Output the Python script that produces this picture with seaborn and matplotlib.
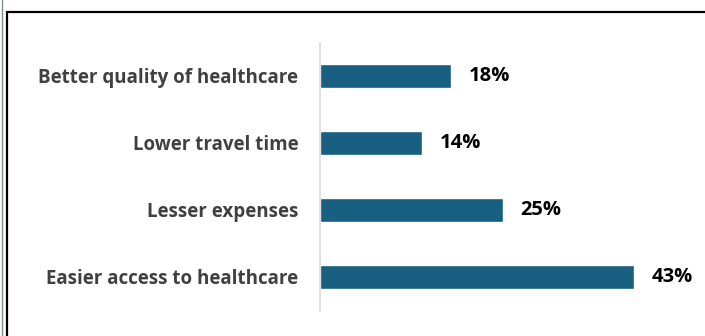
import pandas as pd
import matplotlib
matplotlib.use("Agg")
import matplotlib.pyplot as plt
import seaborn as sns
from matplotlib.patches import Rectangle
from matplotlib.lines import Line2D


categories = ["Better quality of healthcare", "Lower travel time",
              "Lesser expenses", "Easier access to healthcare"]
values = [18, 14, 25, 43]
BAR_COLOR = "#195f82"

sns.set_style("white")
plt.rcParams["font.family"] = ["Open Sans", "DejaVu Sans"]

df = pd.DataFrame({"reason": categories, "share": values})

fig = plt.figure(figsize=(7.05, 3.36), dpi=100)
ax = fig.add_axes([320 / 705, 1 - 310.5 / 336, 365 / 705, 268 / 336])

sns.barplot(data=df, x="share", y="reason", orient="h", color=BAR_COLOR,
            width=0.37, saturation=1, ax=ax)

ax.set_xlim(0, 50)
ax.set_ylim(3.5, -0.5)
ax.set_xlabel("")
ax.set_ylabel("")
ax.set_xticks([])
ax.tick_params(axis="y", length=0, pad=15.5)
for lbl in ax.get_yticklabels():
    lbl.set_fontweight("bold")
    lbl.set_fontsize(13.5)
    lbl.set_color("#404040")

for s in ["top", "right", "bottom"]:
    ax.spines[s].set_visible(False)
ax.spines["left"].set_color("#d9d9d9")
ax.spines["left"].set_linewidth(1.2)

for i, v in enumerate(values):
    ax.text(v + 2.4, i, f"{v}%", va="center", ha="left",
            fontsize=14.5, fontweight="bold", color="black")

# outer frame like the source slide
fig.patches.append(Rectangle((6.5 / 705, -0.1), 1.2, 1 - 11.5 / 336 + 0.1,
                             transform=fig.transFigure, fill=False,
                             edgecolor="black", linewidth=1.6))
fig.lines.append(Line2D([1.5 / 705, 1.5 / 705], [0, 1], transform=fig.transFigure,
                        color="#7f8c95", linewidth=1))

fig.savefig("out.png", dpi=100)
